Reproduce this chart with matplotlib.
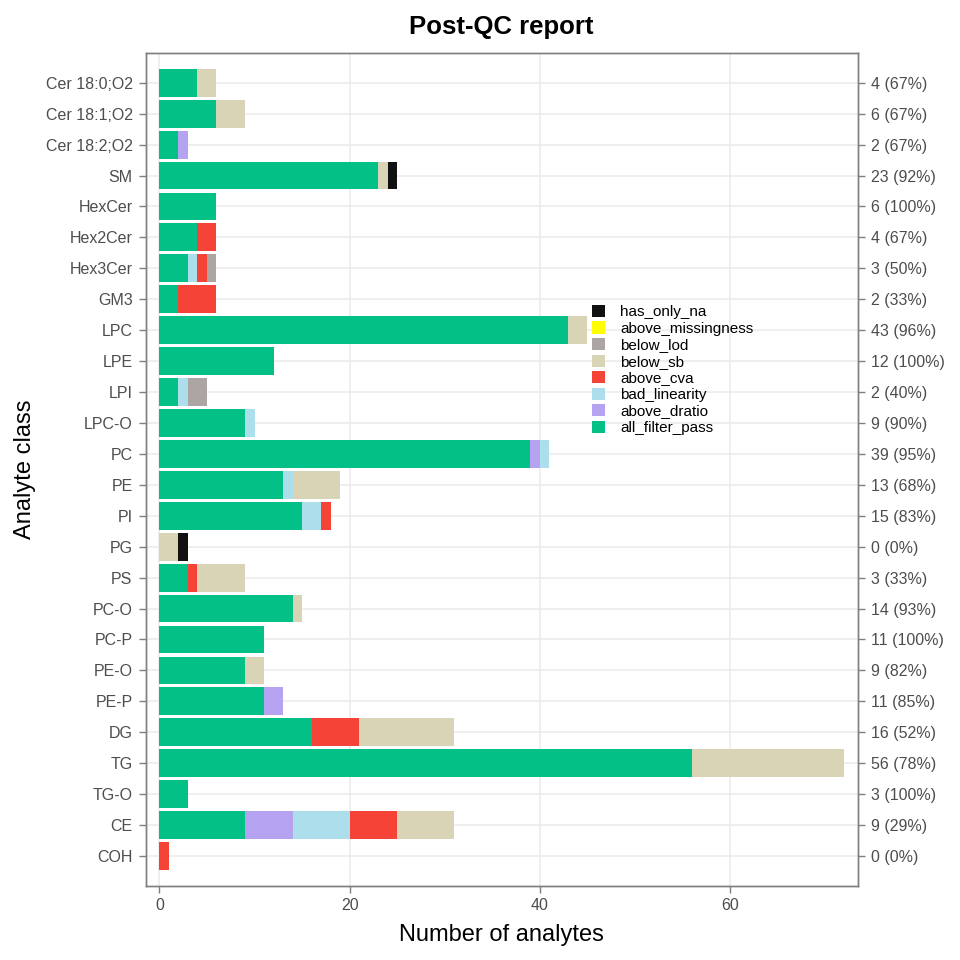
import numpy as np
import matplotlib
matplotlib.use("Agg")
import matplotlib.pyplot as plt
from matplotlib.patches import Patch

plt.rcParams["font.family"] = ["Liberation Sans", "DejaVu Sans"]

classes = ["Cer 18:0;O2", "Cer 18:1;O2", "Cer 18:2;O2", "SM", "HexCer", "Hex2Cer",
           "Hex3Cer", "GM3", "LPC", "LPE", "LPI", "LPC-O", "PC", "PE", "PI", "PG",
           "PS", "PC-O", "PC-P", "PE-O", "PE-P", "DG", "TG", "TG-O", "CE", "COH"]

# counts per filter category, same order as classes
all_filter_pass = [4, 6, 2, 23, 6, 4, 3, 2, 43, 12, 2, 9, 39, 13, 15, 0, 3, 14, 11, 9, 11, 16, 56, 3, 9, 0]
above_dratio = [0, 0, 1, 0, 0, 0, 0, 0, 0, 0, 0, 0, 1, 0, 0, 0, 0, 0, 0, 0, 2, 0, 0, 0, 5, 0]
bad_linearity = [0, 0, 0, 0, 0, 0, 1, 0, 0, 0, 1, 1, 1, 1, 2, 0, 0, 0, 0, 0, 0, 0, 0, 0, 6, 0]
above_cva = [0, 0, 0, 0, 0, 2, 1, 4, 0, 0, 0, 0, 0, 0, 1, 0, 1, 0, 0, 0, 0, 5, 0, 0, 5, 1]
below_sb = [2, 3, 0, 1, 0, 0, 0, 0, 2, 0, 0, 0, 0, 5, 0, 2, 5, 1, 0, 2, 0, 10, 16, 0, 6, 0]
below_lod = [0, 0, 0, 0, 0, 0, 1, 0, 0, 0, 2, 0, 0, 0, 0, 0, 0, 0, 0, 0, 0, 0, 0, 0, 0, 0]
above_missingness = [0] * 26
has_only_na = [0, 0, 0, 1, 0, 0, 0, 0, 0, 0, 0, 0, 0, 0, 0, 1, 0, 0, 0, 0, 0, 0, 0, 0, 0, 0]

categories = ["all_filter_pass", "above_dratio", "bad_linearity", "above_cva",
              "below_sb", "below_lod", "above_missingness", "has_only_na"]
series = [all_filter_pass, above_dratio, bad_linearity, above_cva,
          below_sb, below_lod, above_missingness, has_only_na]
colors = {
    "all_filter_pass": "#02C086",
    "above_dratio": "#B5A3F2",
    "bad_linearity": "#ACDEEC",
    "above_cva": "#F64337",
    "below_sb": "#DAD4B6",
    "below_lod": "#ADA5A3",
    "above_missingness": "#FFFF00",
    "has_only_na": "#111111",
}

pass_arr = np.array(all_filter_pass)
totals = np.sum(np.array(series), axis=0)
right_labels = [f"{p} ({round(100 * p / t):.0f}%)" for p, t in zip(pass_arr, totals)]

ypos = np.arange(len(classes))[::-1]

fig = plt.figure(figsize=(9.6, 9.6), dpi=100)
ax = fig.add_axes([0.1518, 0.0774, 0.7417, 0.867])

left = np.zeros(len(classes))
for name, vals in zip(categories, series):
    vals = np.array(vals)
    ax.barh(ypos, vals, left=left, height=0.9, color=colors[name], linewidth=0, zorder=3)
    left += vals

xmax = totals.max()
ax.set_xlim(-0.02 * xmax, 1.02 * xmax)
ax.set_ylim(-0.96, 25.95)
ax.set_xticks([0, 20, 40, 60])
ax.set_yticks(ypos)
ax.set_yticklabels(classes)
ax.grid(True, color="#EBEBEB", linewidth=1.1, zorder=0)
ax.set_axisbelow(True)

ax2 = ax.twinx()
ax2.set_ylim(ax.get_ylim())
ax2.set_yticks(ypos)
ax2.set_yticklabels(right_labels)

for a in (ax, ax2):
    for sp in a.spines.values():
        sp.set_color("#7F7F7F")
        sp.set_linewidth(1.0)
    a.tick_params(colors="#7F7F7F", labelcolor="#4D4D4D", labelsize=11.5,
                  length=5, width=1.0, pad=4.5)
ax.tick_params(axis="x", pad=3.5)

ax.set_xlabel("Number of analytes", fontsize=17, labelpad=8)
ax.set_ylabel("Analyte class", fontsize=17, labelpad=7)
ax.set_title("Post-QC report", fontsize=18.5, fontweight="bold", pad=14)

handles = [Patch(facecolor=colors[c], edgecolor="none") for c in categories[::-1]]
fig.legend(handles, categories[::-1], loc="center left", bbox_to_anchor=(0.6167, 0.6146),
           frameon=False, fontsize=11, handlelength=0.85, handleheight=0.85,
           handletextpad=1.0, labelspacing=0.14, borderaxespad=0, borderpad=0)

fig.savefig("out.png", dpi=100)
